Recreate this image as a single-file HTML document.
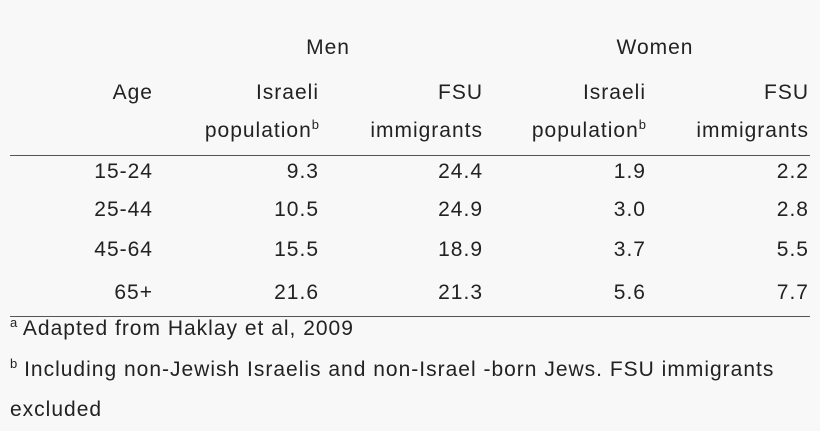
<!DOCTYPE html>
<html><head><meta charset="utf-8"><style>
body{margin:0;width:820px;height:431px;background:#f8f8f8;font-family:"Liberation Sans",sans-serif;color:#222;font-size:21px;letter-spacing:1px;position:relative;overflow:hidden}
.t{position:absolute;white-space:nowrap;line-height:20px}
.r{transform:translateX(-100%)}
.c{transform:translateX(-50%)}
.fn{font-size:21px;letter-spacing:1px}
sup{font-size:13px;vertical-align:8px;line-height:0;letter-spacing:0}
.line{position:absolute;left:10px;width:800px;height:1px;background:#555}
</style></head><body>
<div id="tbl"></div>
<div class="line" style="top:155px"></div>
<div class="line" style="top:316px"></div>
<div class="t fn" style="left:10px;top:319px"><sup>a</sup> Adapted from Haklay et al, 2009</div>
<div class="t fn" style="left:10px;top:360px"><sup>b</sup> Including non-Jewish Israelis and non-Israel -born Jews. FSU immigrants</div>
<div class="t fn" style="left:10px;top:400px">excluded</div>
<script>
const ages=["15-24","25-44","45-64","65+"];
const menIsraeli=["9.3","10.5","15.5","21.6"];
const menFSU=["24.4","24.9","18.9","21.3"];
const womenIsraeli=["1.9","3.0","3.7","5.6"];
const womenFSU=["2.2","2.8","5.5","7.7"];
const colRight=[153,319,483,646,809];
const rowTop=[162,200,240,283];
const tbl=document.getElementById('tbl');
function add(html,x,y,cls,name){
  const d=document.createElement('div');
  d.className='t '+cls;d.innerHTML=html;
  d.style.left=x+'px';d.style.top=y+'px';
  
  
  tbl.appendChild(d);
}
add('Men',328,38,'c','men-header');
add('Women',655,38,'c','women-header');
add('Age',153,83,'r','age-header');
add('Israeli',319,83,'r','men-israeli-header');
add('FSU',483,83,'r','men-fsu-header');
add('Israeli',646,83,'r','women-israeli-header');
add('FSU',809,83,'r','women-fsu-header');
add('population<sup>b</sup>',319,121,'r','men-population-header');
add('immigrants',483,121,'r','men-immigrants-header');
add('population<sup>b</sup>',646,121,'r','women-population-header');
add('immigrants',809,121,'r','women-immigrants-header');
const cols=[ages,menIsraeli,menFSU,womenIsraeli,womenFSU];
ages.forEach((a,i)=>{cols.forEach((c,j)=>add(c[i],colRight[j],rowTop[i],'r','cell'));});
</script>
</body></html>
